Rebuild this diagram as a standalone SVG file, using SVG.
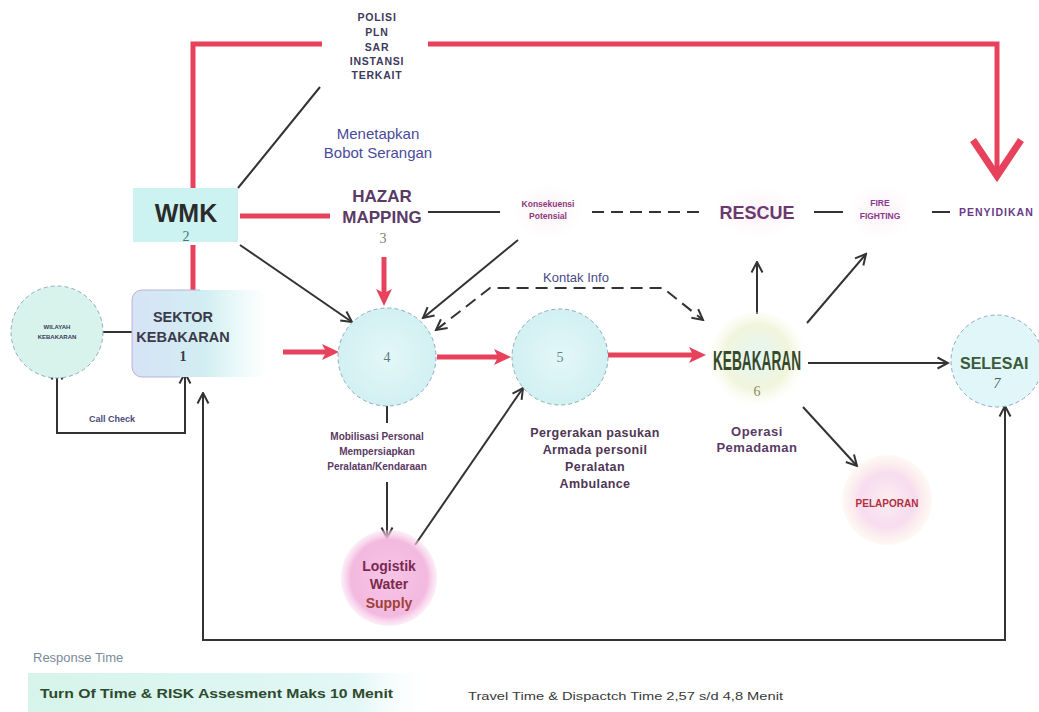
<svg xmlns="http://www.w3.org/2000/svg" width="1039" height="712" viewBox="0 0 1039 712">
  <style>
    text { font-family: "Liberation Sans", Arial, sans-serif; }
    .ln { fill: none; stroke: #333; stroke-width: 2; }
    .dash { stroke-dasharray: 12 7; }
    .red { fill: none; stroke: #e8415c; stroke-width: 5; }
    .circ { stroke: #8fa9c4; stroke-width: 1; stroke-dasharray: 4 3; }
    .b { font-weight: bold; }
    .c { text-anchor: middle; }
    .pur { fill: #5a3a66; }
    .num { font-family: "Liberation Serif", serif; font-size: 14px; text-anchor: middle; }
  </style>
  <defs>
    <marker id="ah" viewBox="0 0 14 14" refX="12.5" refY="7" markerWidth="14" markerHeight="14" markerUnits="userSpaceOnUse" orient="auto-start-reverse">
      <path d="M2,1.5 L12.5,7 L2,12.5" fill="none" stroke="#333" stroke-width="2"/>
    </marker>
    <marker id="rh" viewBox="0 0 18 18" refX="5" refY="9" markerWidth="18" markerHeight="18" markerUnits="userSpaceOnUse" orient="auto">
      <path d="M0,1 L17,9 L0,17 L4,9 z" fill="#e8415c"/>
    </marker>
    <radialGradient id="gCyan" cx="50%" cy="50%" r="50%">
      <stop offset="0" stop-color="#e3f7f8"/>
      <stop offset="1" stop-color="#d2f0f2"/>
    </radialGradient>
    <radialGradient id="gFire" cx="50%" cy="45%" r="50%">
      <stop offset="0" stop-color="#e4f6f6"/>
      <stop offset="0.65" stop-color="#f1f5dc"/>
      <stop offset="1" stop-color="#fbfbf0" stop-opacity="0"/>
    </radialGradient>
    <radialGradient id="gPink" cx="50%" cy="50%" r="50%">
      <stop offset="0" stop-color="#f6c4e6"/>
      <stop offset="0.8" stop-color="#f3b9df"/>
      <stop offset="1" stop-color="#f8d4ec" stop-opacity="0.4"/>
    </radialGradient>
    <radialGradient id="gLapor" cx="50%" cy="50%" r="50%">
      <stop offset="0" stop-color="#fbeef0"/>
      <stop offset="0.6" stop-color="#f8dcef"/>
      <stop offset="1" stop-color="#fbeadf" stop-opacity="0.3"/>
    </radialGradient>
    <radialGradient id="gGlow" cx="50%" cy="50%" r="50%">
      <stop offset="0" stop-color="#fbeef6"/>
      <stop offset="1" stop-color="#fdf6fa" stop-opacity="0"/>
    </radialGradient>
    <linearGradient id="gSektor" x1="0" y1="0" x2="1" y2="0">
      <stop offset="0" stop-color="#d6e3f6"/>
      <stop offset="0.55" stop-color="#d2eef2"/>
      <stop offset="1" stop-color="#d8f6f2" stop-opacity="0"/>
    </linearGradient>
    <linearGradient id="gBand" x1="0" y1="0" x2="1" y2="0">
      <stop offset="0" stop-color="#d6f4ea"/>
      <stop offset="0.8" stop-color="#e2f7f6"/>
      <stop offset="1" stop-color="#ffffff" stop-opacity="0"/>
    </linearGradient>
  </defs>

  <rect width="1039" height="712" fill="#ffffff"/>

  <!-- soft glows behind the top row labels -->
  <g id="glows">
    <ellipse cx="548" cy="211" rx="36" ry="28" fill="url(#gGlow)"/>
    <ellipse cx="757" cy="212" rx="44" ry="26" fill="url(#gGlow)"/>
    <ellipse cx="880" cy="212" rx="34" ry="28" fill="url(#gGlow)"/>
  </g>

  <!-- connectors -->
  <g id="connectors">
    <!-- red command lines -->
    <polyline class="red" points="193,190 193,44 322,44"/>
    <polyline class="red" points="428,44 997,44 997,172"/>
    <polyline points="973,140 997,176 1021,140" fill="none" stroke="#e8415c" stroke-width="7"/>
    <line class="red" x1="193" y1="245" x2="193" y2="290"/>
    <line class="red" x1="240" y1="216" x2="330" y2="216"/>
    <line class="red" x1="384" y1="257" x2="384" y2="294" marker-end="url(#rh)"/>
    <line class="red" x1="283" y1="352" x2="327" y2="352" marker-end="url(#rh)"/>
    <line class="red" x1="437" y1="357" x2="499" y2="357" marker-end="url(#rh)"/>
    <line class="red" x1="608" y1="355" x2="694" y2="355" marker-end="url(#rh)"/>

    <!-- plain links -->
    <line class="ln" x1="320" y1="87" x2="238" y2="188"/>
    <line class="ln" x1="428" y1="212" x2="500" y2="212"/>
    <line class="ln dash" x1="592" y1="212" x2="703" y2="212"/>
    <line class="ln" x1="814" y1="212" x2="843" y2="212"/>
    <line class="ln" x1="932" y1="212" x2="950" y2="212"/>
    <line class="ln" x1="90" y1="332" x2="132" y2="332"/>

    <!-- arrows -->
    <line class="ln" x1="240" y1="245" x2="352" y2="322" marker-end="url(#ah)"/>
    <line class="ln" x1="518" y1="240" x2="423" y2="318" marker-end="url(#ah)"/>
    <polyline class="ln dash" points="436,330 490,288 663,288 703,320" marker-start="url(#ah)" marker-end="url(#ah)"/>
    <line class="ln" x1="387" y1="398" x2="387" y2="423"/>
    <line class="ln" x1="387" y1="482" x2="387" y2="538" marker-end="url(#ah)"/>
    <line class="ln" x1="415" y1="545" x2="523" y2="388" marker-end="url(#ah)"/>
    <line class="ln" x1="757" y1="314" x2="757" y2="262" marker-end="url(#ah)"/>
    <line class="ln" x1="807" y1="323" x2="866" y2="254" marker-end="url(#ah)"/>
    <line class="ln" x1="808" y1="363" x2="948" y2="363" marker-end="url(#ah)"/>
    <line class="ln" x1="803" y1="407" x2="857" y2="466" marker-end="url(#ah)"/>
    <polyline class="ln" points="57,369 57,433 185,433 185,373" marker-start="url(#ah)" marker-end="url(#ah)"/>
    <polyline class="ln" points="203,393 203,640 1005,640 1005,406" marker-start="url(#ah)" marker-end="url(#ah)"/>

    <text class="c" x="576" y="282" font-size="13" fill="#4a4a8a">Kontak Info</text>
  </g>

  <g id="agencies">
    <g class="b c" font-size="10.5" fill="#3e3a5c" letter-spacing="0.8">
      <text x="377" y="21">POLISI</text>
      <text x="377" y="36">PLN</text>
      <text x="377" y="51">SAR</text>
      <text x="377" y="65">INSTANSI</text>
      <text x="377" y="79">TERKAIT</text>
    </g>
  </g>

  <g id="bobot">
    <text class="c" x="378" y="139" font-size="15" fill="#4a4a9a">Menetapkan</text>
    <text class="c" x="378" y="158" font-size="15" fill="#4a4a9a">Bobot Serangan</text>
  </g>

  <g id="node-wmk">
    <rect x="133" y="188" width="105" height="54" fill="#cdf2f2"/>
    <text class="b c" x="186" y="222" font-size="25" fill="#2b2b2b">WMK</text>
    <text class="num" x="186" y="241" fill="#3a7a7a">2</text>
  </g>

  <g id="node-hazar">
    <text class="b c pur" x="382" y="202" font-size="17">HAZAR</text>
    <text class="b c pur" x="382" y="223" font-size="17">MAPPING</text>
    <text class="num" x="383" y="243" fill="#7f7f6a">3</text>
  </g>

  <g id="node-konsekuensi">
    <text class="b c" x="548" y="207" font-size="8.5" fill="#8a3a7a">Konsekuensi</text>
    <text class="b c" x="548" y="219" font-size="8.5" fill="#8a3a7a">Potensial</text>
  </g>

  <g id="node-rescue">
    <text class="b c" x="757" y="219" font-size="18" fill="#6a3a6e">RESCUE</text>
  </g>

  <g id="node-fire">
    <text class="b c" x="880" y="206" font-size="8.5" fill="#8a3a8a">FIRE</text>
    <text class="b c" x="880" y="219" font-size="8.5" fill="#8a3a8a">FIGHTING</text>
  </g>

  <g id="node-penyidikan">
    <text class="b" x="959" y="216" font-size="10.5" fill="#6a3a8a" letter-spacing="1">PENYIDIKAN</text>
  </g>

  <g id="node-wilayah">
    <circle class="circ" cx="57" cy="332" r="46" fill="#d8f3ec"/>
    <text class="b c" x="57" y="329" font-size="6" fill="#3a3a5a">WILAYAH</text>
    <text class="b c" x="57" y="339" font-size="6" fill="#3a3a5a">KEBAKARAN</text>
    <text class="b c" x="112" y="422" font-size="9" fill="#4a4a7a">Call Check</text>
  </g>

  <g id="node-sektor">
    <rect x="132" y="290" width="135" height="87" rx="10" fill="url(#gSektor)"/>
    <path d="M200,290 H142 A10,10 0 0 0 132,300 V367 A10,10 0 0 0 142,377 H180" fill="none" stroke="#b8b4d8" stroke-width="1"/>
    <text class="b c" x="183" y="322" font-size="14.5" fill="#3a3a4a">SEKTOR</text>
    <text class="b c" x="183" y="342" font-size="14.5" fill="#3a3a4a">KEBAKARAN</text>
    <text class="num" x="183" y="361" fill="#3a3a4a" font-family="Liberation Sans, sans-serif" font-weight="bold">1</text>
  </g>

  <g id="node-4">
    <circle class="circ" cx="387" cy="357" r="49" fill="url(#gCyan)"/>
    <text class="num" x="387" y="362" fill="#5a7a8a">4</text>
    <g class="b c" font-size="10" fill="#5a3a62">
      <text x="377" y="440">Mobilisasi Personal</text>
      <text x="377" y="455">Mempersiapkan</text>
      <text x="377" y="470">Peralatan/Kendaraan</text>
    </g>
  </g>

  <g id="node-5">
    <circle class="circ" cx="560" cy="357" r="48" fill="url(#gCyan)"/>
    <text class="num" x="560" y="362" fill="#5a8a8a">5</text>
    <g class="b c" font-size="12.5" fill="#4e3654" letter-spacing="0.4">
      <text x="595" y="437">Pergerakan pasukan</text>
      <text x="595" y="454">Armada personil</text>
      <text x="595" y="471">Peralatan</text>
      <text x="595" y="488">Ambulance</text>
    </g>
  </g>

  <g id="node-logistik">
    <circle cx="389" cy="578" r="48" fill="url(#gPink)"/>
    <text class="b c" x="389" y="571" font-size="14" fill="#7a2a52">Logistik</text>
    <text class="b c" x="389" y="589" font-size="14" fill="#7a2a4a">Water</text>
    <text class="b c" x="389" y="608" font-size="14" fill="#a0403a">Supply</text>
  </g>

  <g id="node-kebakaran">
    <circle cx="757" cy="362" r="50" fill="url(#gFire)"/>
    <text class="c" x="757" y="370" font-size="27" font-weight="bold" fill="#354a2a" font-family="Liberation Sans Narrow, DejaVu Sans Condensed, sans-serif" textLength="88" lengthAdjust="spacingAndGlyphs">KEBAKARAN</text>
    <text class="num" x="757" y="396" fill="#8a8a6a">6</text>
    <text class="b c pur" x="757" y="436" font-size="13" letter-spacing="0.5">Operasi</text>
    <text class="b c pur" x="757" y="452" font-size="13" letter-spacing="0.5">Pemadaman</text>
  </g>

  <g id="node-selesai">
    <circle class="circ" cx="997" cy="361" r="46" fill="#e0f6f8"/>
    <text class="b" x="960" y="369" font-size="16" fill="#3a5a3a">SELESAI</text>
    <text class="num" x="997" y="388" fill="#4a5a5a" font-style="italic">7</text>
  </g>

  <g id="node-pelaporan">
    <circle cx="887" cy="500" r="45" fill="url(#gLapor)"/>
    <text class="b c" x="887" y="507" font-size="10" fill="#b03040">PELAPORAN</text>
  </g>

  <g id="response-time">
    <text x="33" y="662" font-size="13" fill="#7a8a9a">Response Time</text>
    <rect x="28" y="673" width="410" height="39" fill="url(#gBand)"/>
    <text class="b" x="40" y="698" font-size="12" fill="#2e4a2e" textLength="353" lengthAdjust="spacingAndGlyphs">Turn Of Time &amp; RISK Assesment Maks 10 Menit</text>
    <text x="468" y="700" font-size="10.5" fill="#3a3a3a" textLength="315" lengthAdjust="spacingAndGlyphs">Travel Time &amp; Dispactch Time 2,57 s/d 4,8 Menit</text>
  </g>
</svg>
